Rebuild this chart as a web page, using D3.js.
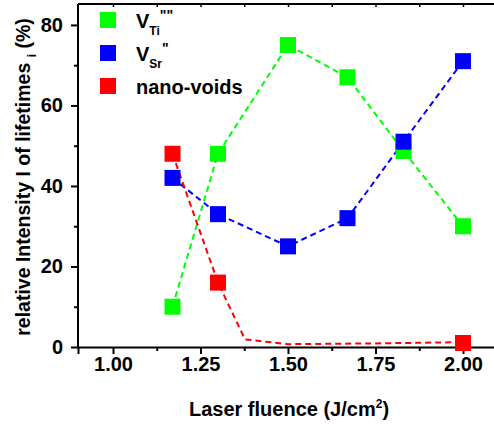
<!DOCTYPE html>
<html><head><meta charset="utf-8">
<script src="https://cdn.jsdelivr.net/npm/d3@7"></script>
<style>body{margin:0;background:#fff}svg{display:block}text{font-family:"Liberation Sans",Arial,sans-serif;font-weight:bold}</style>
</head><body><svg id="c" width="494" height="425"></svg>
<script>
const fluence = [1.17, 1.30, 1.50, 1.67, 1.83, 2.00];
const vTi = [10, 48, 75, 67, 48.7, 30];
const vSr = [42, 33, 25, 32, 51, 71];
const voidX = [1.17, 1.30, 2.00];
const voidY = [48, 16, 1.0];
const voidLineX = [1.17, 1.30, 1.377, 1.50, 1.75, 2.00];
const voidLineY = [48, 16, 1.9, 0.7, 0.9, 1.2];
const xTicks = [1.00, 1.25, 1.50, 1.75, 2.00];
const yTicks = [0, 20, 40, 60, 80];

const svg = d3.select("#c");
const x = d3.scaleLinear().domain([0.9, 2.1]).range([78, 498]);
const y = d3.scaleLinear().domain([0, 85.2]).range([347, 4]);

// frame
svg.append("line").attr("x1",78).attr("x2",498).attr("y1",y(85.2)).attr("y2",y(85.2)).attr("stroke","#000").attr("stroke-width",2);
svg.append("line").attr("x1",78).attr("x2",78).attr("y1",4).attr("y2",347).attr("stroke","#000").attr("stroke-width",2);

// bottom axis
const xAxis = svg.append("g").attr("transform","translate(0,347)")
  .call(d3.axisBottom(x).tickValues(xTicks).tickFormat(d3.format(".2f")).tickSize(7).tickPadding(3));
xAxis.select(".domain").attr("stroke-width",2);
xAxis.selectAll(".tick line").attr("stroke-width",2);
xAxis.selectAll("text").attr("font-size",20).attr("fill","#000");
svg.append("g").attr("transform","translate(0,347)")
  .call(d3.axisBottom(x).tickValues(d3.range(1.125,2.1,0.25)).tickFormat("").tickSize(4))
  .call(g=>{g.select(".domain").remove();g.selectAll(".tick line").attr("stroke-width",2);});
// top ticks inward
svg.append("g").attr("transform","translate(0,4)")
  .call(d3.axisBottom(x).tickValues(d3.range(1.0,2.1,0.125)).tickFormat("").tickSize(3))
  .call(g=>{g.select(".domain").remove();g.selectAll(".tick line").attr("stroke-width",1.5);});

// left axis
const yAxis = svg.append("g").attr("transform","translate(78,0)")
  .call(d3.axisLeft(y).tickValues(yTicks).tickSize(7).tickPadding(8));
yAxis.select(".domain").remove();
yAxis.selectAll(".tick line").attr("stroke-width",2);
yAxis.selectAll("text").attr("font-size",20).attr("fill","#000");
svg.append("g").attr("transform","translate(78,0)")
  .call(d3.axisLeft(y).tickValues([10,30,50,70]).tickFormat("").tickSize(4))
  .call(g=>{g.select(".domain").remove();g.selectAll(".tick line").attr("stroke-width",2);});

// titles
const xt = svg.append("text").attr("x",289).attr("y",416).attr("text-anchor","middle").attr("font-size",20);
xt.append("tspan").text("Laser fluence (J/cm");
xt.append("tspan").text("2").attr("font-size",12).attr("dy",-8);
xt.append("tspan").text(")").attr("dy",8);

const yt = svg.append("text").attr("transform","translate(30,177) rotate(-90)").attr("text-anchor","middle").attr("font-size",19.5);
yt.append("tspan").text("relative Intensity I of lifetimes  ");
yt.append("tspan").text("i").attr("font-size",12).attr("dy",6);
yt.append("tspan").text(" (%)").attr("dy",-6);

// series
const series = [
  {xs: fluence, ys: vTi, lx: fluence, ly: vTi, color: "#00ff00"},
  {xs: fluence, ys: vSr, lx: fluence, ly: vSr, color: "#0000ff"},
  {xs: voidX, ys: voidY, lx: voidLineX, ly: voidLineY, color: "#ff0000"}
];
const line = d3.line().x(d=>x(d[0])).y(d=>y(d[1]));
const S = 16;
series.forEach(s=>{
  svg.append("path").attr("d", line(s.lx.map((v,i)=>[v,s.ly[i]])))
    .attr("fill","none").attr("stroke",s.color).attr("stroke-width",2).attr("stroke-dasharray","6,4");
});
series.forEach(s=>{
  svg.selectAll(null).data(s.xs.map((v,i)=>[v,s.ys[i]])).enter().append("rect")
    .attr("x",d=>x(d[0])-S/2).attr("y",d=>y(d[1])-S/2).attr("width",S).attr("height",S)
    .attr("fill",s.color);
});

// legend
const leg = [
  {color:"#00ff00", main:"V", sub:"Ti", sup:"\"\"", ly:20},
  {color:"#0000ff", main:"V", sub:"Sr", sup:"\"", ly:53},
  {color:"#ff0000", main:"nano-voids", sub:null, sup:null, ly:86}
];
leg.forEach(l=>{
  svg.append("rect").attr("x",100).attr("y",l.ly-8).attr("width",16).attr("height",16).attr("fill",l.color);
  const t = svg.append("text").attr("x",136).attr("y",l.ly+8).attr("font-size",20);
  t.append("tspan").text(l.main);
  if(l.sub){
    t.append("tspan").text(l.sub).attr("font-size",12).attr("dy",7);
    t.append("tspan").text(l.sup).attr("font-size",14).attr("dy",-15);
  }
});
</script></body></html>
